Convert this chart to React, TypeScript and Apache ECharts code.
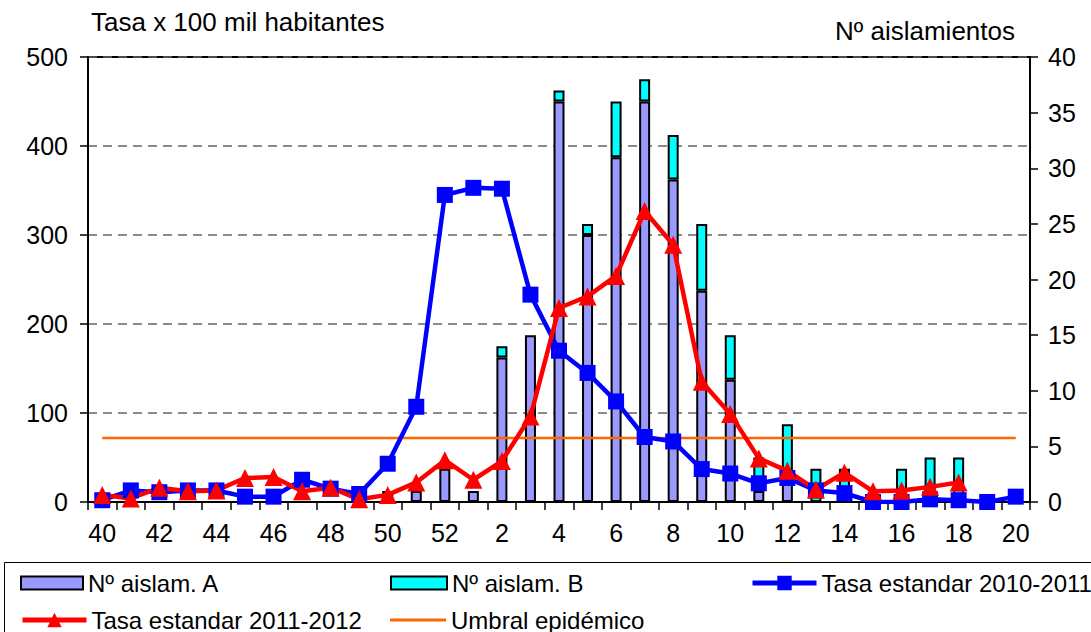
import React, { useEffect, useRef } from 'react';
import * as echarts from 'echarts';

const weeks = ['40','41','42','43','44','45','46','47','48','49','50','51','52','1','2','3','4','5','6','7','8','9','10','11','12','13','14','15','16','17','18','19','20'];
const aislamA = [0,0,0,0,0,0,0,0,0,0,1,1,3,1,13,15,36,24,31,36,29,19,11,1,2,0,0,0,0,0,0,0,0];
const aislamB = [0,0,0,0,0,0,0,0,0,0,0,0,0,0,1,0,1,1,5,2,4,6,4,3,5,3,3,0,3,4,4,0,0];
const tasa1011 = [2,13,11,13,13,6,6,25,15,9,43,107,345,353,352,233,170,145,113,73,68,37,32,21,27,13,10,0,0,3,2,0,6];
const tasa1112: (number | null)[] = [8,4,16,12,13,27,28,12,16,3,8,22,47,25,46,96,218,231,254,327,289,135,99,49,35,14,33,12,13,17,22,null,null];
const umbralValue = 72;

const FONT = '"Liberation Sans", Arial, sans-serif';

export default function App() {
  const ref = useRef<HTMLDivElement>(null);
  useEffect(() => {
    document.body.style.margin = '0';
    const chart = echarts.init(ref.current!, null, { renderer: 'svg' });
    const nz = (a: number[]) => a.map((v) => (v === 0 ? null : v));
    const txt = { color: '#000', fontFamily: FONT, fontSize: 24 };
    const legendBase = { orient: 'horizontal', itemGap: 0, textStyle: { ...txt, fontSize: 24 }, selectedMode: false };
    chart.setOption({
      animation: false,
      backgroundColor: '#fff',
      grid: { left: 88, right: 61, top: 57, bottom: 130, show: true, borderColor: '#000', borderWidth: 2, backgroundColor: 'transparent' },
      xAxis: {
        type: 'category',
        data: weeks,
        boundaryGap: true,
        axisLine: { lineStyle: { color: '#000', width: 2 } },
        axisTick: { show: true, interval: 0, alignWithLabel: false, length: 8, lineStyle: { color: '#000', width: 1.5 } },
        axisLabel: { interval: 1, margin: 18, ...txt, fontSize: 25 },
        splitLine: { show: false },
      },
      yAxis: [
        {
          type: 'value', min: 0, max: 500, interval: 100, position: 'left',
          axisLine: { show: true, lineStyle: { color: '#000', width: 2 } },
          axisTick: { show: true, length: 8, lineStyle: { color: '#000', width: 1.5 } },
          axisLabel: { margin: 20, ...txt, fontSize: 25 },
          splitLine: { show: true, lineStyle: { color: '#666', type: [9, 6], width: 1.5 } },
        },
        {
          type: 'value', min: 0, max: 40, interval: 5, position: 'right',
          axisLine: { show: true, lineStyle: { color: '#000', width: 2 } },
          axisTick: { show: true, length: 8, lineStyle: { color: '#000', width: 1.5 } },
          axisLabel: { margin: 18, ...txt, fontSize: 25 },
          splitLine: { show: false },
        },
      ],
      title: [
        { text: 'Tasa x 100 mil habitantes', left: 86, top: 4, textStyle: { ...txt, fontSize: 26, fontWeight: 'normal' } },
        { text: 'Nº aislamientos', right: 71, top: 13, textStyle: { ...txt, fontSize: 26, fontWeight: 'normal' } },
      ],
      legend: [
        { ...legendBase, data: ['Nº aislam. A'], left: 15, top: 566, icon: 'rect', itemWidth: 62, itemHeight: 13 },
        { ...legendBase, data: ['Nº aislam. B'], left: 385, top: 566, icon: 'rect', itemWidth: 56, itemHeight: 13 },
        { ...legendBase, data: ['Tasa estandar 2010-2011'], left: 745, top: 566, itemWidth: 64, itemHeight: 18, lineStyle: { width: 5 } },
        { ...legendBase, data: ['Tasa estandar 2011-2012'], left: 15, top: 603, itemWidth: 64, itemHeight: 18, lineStyle: { width: 5 } },
        { ...legendBase, data: [{ name: 'Umbral epidémico', icon: 'rect' }], left: 385, top: 603, itemWidth: 56, itemHeight: 3 },
      ],
      graphic: [
        { type: 'rect', shape: { x: 4.5, y: 562.5, width: 1100, height: 100 }, style: { fill: 'none', stroke: '#000', lineWidth: 1 }, silent: true },
      ],
      series: [
        {
          name: 'Nº aislam. A', type: 'bar', yAxisIndex: 1, stack: 'a', barWidth: 11,
          data: nz(aislamA),
          itemStyle: { color: '#9999FF', borderColor: '#000', borderWidth: 2 },
        },
        {
          name: 'Nº aislam. B', type: 'bar', yAxisIndex: 1, stack: 'a', barWidth: 11,
          data: nz(aislamB),
          itemStyle: { color: '#00FFFF', borderColor: '#000', borderWidth: 2 },
        },
        {
          name: 'Umbral epidémico', type: 'line', yAxisIndex: 0,
          data: weeks.map(() => umbralValue),
          symbol: 'none', lineStyle: { color: '#FF6600', width: 2.5 }, itemStyle: { color: '#FF6600' },
        },
        {
          name: 'Tasa estandar 2010-2011', type: 'line', yAxisIndex: 0, data: tasa1011,
          symbol: 'rect', symbolSize: 16,
          lineStyle: { color: '#0000FF', width: 4.5 }, itemStyle: { color: '#0000FF' },
        },
        {
          name: 'Tasa estandar 2011-2012', type: 'line', yAxisIndex: 0, data: tasa1112,
          symbol: 'triangle', symbolSize: 18,
          lineStyle: { color: '#FF0000', width: 4.5 }, itemStyle: { color: '#FF0000' },
        },
      ],
    });
    return () => chart.dispose();
  }, []);
  return <div ref={ref} style={{ width: 1091, height: 632 }} />;
}
